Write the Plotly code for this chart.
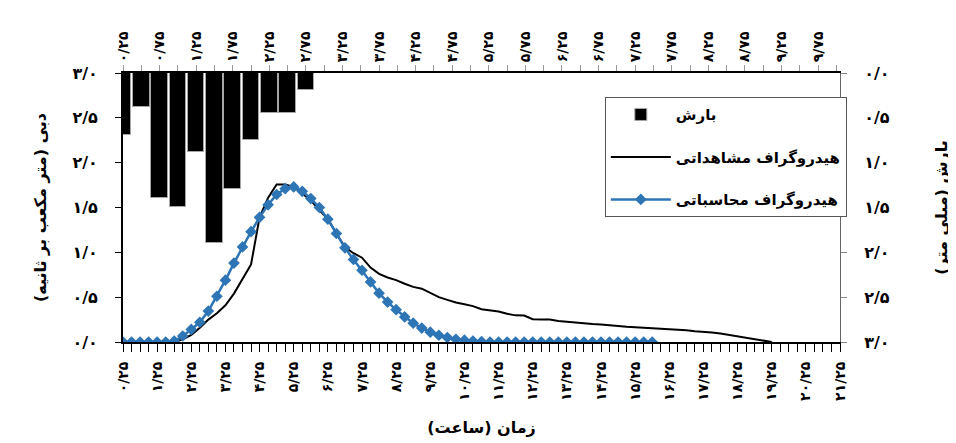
import plotly.graph_objects as go

# ---------------- data ----------------
rain_time = [0.25, 0.5, 0.75, 1.0, 1.25, 1.5, 1.75, 2.0, 2.25, 2.5, 2.75]
rain_mm = [0.69, 0.38, 1.39, 1.49, 0.885, 1.90, 1.29, 0.75, 0.45, 0.45, 0.19]

hydro_time = [0.25, 0.5, 0.75, 1.0, 1.25, 1.5, 1.75, 2.0, 2.25, 2.5, 2.75, 3.0,
              3.25, 3.5, 3.75, 4.0, 4.25, 4.5, 4.75, 5.0, 5.25, 5.5, 5.75, 6.0,
              6.25, 6.5, 6.75, 7.0, 7.25, 7.5, 7.75, 8.0, 8.25, 8.5, 8.75, 9.0,
              9.25, 9.5, 9.75, 10.0, 10.25, 10.5, 10.75, 11.0, 11.25, 11.5, 11.75, 12.0,
              12.25, 12.5, 12.75, 13.0, 13.25, 13.5, 13.75, 14.0, 14.25, 14.5, 14.75, 15.0,
              15.25, 15.5, 15.75, 16.0, 16.25, 16.5, 16.75, 17.0, 17.25, 17.5, 17.75, 18.0,
              18.25, 18.5, 18.75, 19.0, 19.25, 19.5, 19.75, 20.0, 20.25, 20.5, 20.75, 21.0,
              21.25]

observed = [0, 0, 0, 0, 0, 0, 0,
            0.03, 0.08, 0.16, 0.25, 0.32, 0.41, 0.54, 0.71, 0.865, 1.39, 1.61, 1.756,
            1.756, 1.73, 1.66, 1.58, 1.47, 1.37, 1.21, 1.06,
            0.99, 0.94, 0.83, 0.76, 0.72, 0.69, 0.65, 0.615, 0.595, 0.55, 0.50, 0.47,
            0.44, 0.42, 0.40, 0.365, 0.355, 0.34, 0.315, 0.297, 0.295, 0.255, 0.25, 0.25,
            0.235, 0.225, 0.215, 0.21, 0.20, 0.195, 0.185, 0.18, 0.17, 0.165, 0.16, 0.155,
            0.15, 0.14, 0.135, 0.13, 0.12, 0.115, 0.105, 0.095, 0.08, 0.065, 0.05, 0.03,
            0.015, 0.0]

computed = [0, 0, 0, 0, 0, 0, 0.01, 0.067, 0.14, 0.22, 0.345, 0.51, 0.69, 0.88,
            1.06, 1.23, 1.39, 1.53, 1.645, 1.71, 1.73, 1.68, 1.60, 1.50, 1.37, 1.21,
            1.05, 0.92, 0.80, 0.67, 0.545, 0.445, 0.36, 0.28, 0.21, 0.155, 0.11, 0.075,
            0.05, 0.03, 0.02, 0.01, 0.005,
            0, 0, 0, 0, 0, 0, 0, 0, 0, 0, 0, 0, 0, 0, 0, 0, 0, 0, 0, 0]

bottom_tickvals = [0.25, 1.25, 2.25, 3.25, 4.25, 5.25, 6.25, 7.25, 8.25, 9.25, 10.25,
                   11.25, 12.25, 13.25, 14.25, 15.25, 16.25, 17.25, 18.25, 19.25,
                   20.25, 21.25]
bottom_ticktext = ["۰/۲۵", "۱/۲۵", "۲/۲۵", "۳/۲۵", "۴/۲۵", "۵/۲۵", "۶/۲۵", "۷/۲۵",
                   "۸/۲۵", "۹/۲۵", "۱۰/۲۵", "۱۱/۲۵", "۱۲/۲۵", "۱۳/۲۵", "۱۴/۲۵",
                   "۱۵/۲۵", "۱۶/۲۵", "۱۷/۲۵", "۱۸/۲۵", "۱۹/۲۵", "۲۰/۲۵", "۲۱/۲۵"]

top_tickvals = [0.25, 0.75, 1.25, 1.75, 2.25, 2.75, 3.25, 3.75, 4.25, 4.75, 5.25,
                5.75, 6.25, 6.75, 7.25, 7.75, 8.25, 8.75, 9.25, 9.75]
top_ticktext = ["۰/۲۵", "۰/۷۵", "۱/۲۵", "۱/۷۵", "۲/۲۵", "۲/۷۵", "۳/۲۵", "۳/۷۵",
                "۴/۲۵", "۴/۷۵", "۵/۲۵", "۵/۷۵", "۶/۲۵", "۶/۷۵", "۷/۲۵", "۷/۷۵",
                "۸/۲۵", "۸/۷۵", "۹/۲۵", "۹/۷۵"]

y_tickvals = [0, 0.5, 1.0, 1.5, 2.0, 2.5, 3.0]
y_ticktext = ["۰/۰", "۰/۵", "۱/۰", "۱/۵", "۲/۰", "۲/۵", "۳/۰"]

FONT = "DejaVu Sans"

fig = go.Figure()

fig.add_trace(go.Bar(
    x=rain_time, y=rain_mm, xaxis="x2", yaxis="y2",
    name="بارش", width=0.227,
    marker=dict(color="black", line=dict(color="#a6a6a6", width=1)),
    legendgroup="a",
))
fig.add_trace(go.Scatter(
    x=hydro_time[:len(observed)], y=observed, mode="lines",
    name="هیدروگراف مشاهداتی", line=dict(color="black", width=2),
    legendgroup="b",
))
fig.add_trace(go.Scatter(
    x=hydro_time[:len(computed)], y=computed, mode="lines+markers",
    name="هیدروگراف محاسباتی",
    line=dict(color="#2e75b6", width=2.5),
    marker=dict(symbol="diamond", size=9, color="#2e75b6"),
    legendgroup="c",
))

xtickfont = dict(family=FONT, size=14, color="black", weight="bold")
ytickfont = dict(family=FONT, size=16, color="black", weight="bold")
titlefont = dict(family=FONT, size=16, color="black", weight="bold")

fig.update_layout(
    width=948, height=435,
    margin=dict(l=115, r=116, t=65, b=101),
    plot_bgcolor="white", paper_bgcolor="white",
    showlegend=True,
    bargap=0,
    legend=dict(
        x=0.672, y=0.91, xanchor="left", yanchor="top",
        bgcolor="white", bordercolor="#555555", borderwidth=1,
        font=dict(family=FONT, size=15, color="black", weight="bold"),
        tracegroupgap=20, itemwidth=60,
    ),
    xaxis=dict(
        range=[0.25, 21.25], tickmode="array", automargin=False,
        tickvals=bottom_tickvals, ticktext=bottom_ticktext, tickangle=-90,
        ticks="outside", ticklen=8, tickcolor="black", tickwidth=1,
        ticklabelstandoff=4,
        minor=dict(dtick=0.25, tick0=0.25, ticks="outside", ticklen=8,
                   tickcolor="black", tickwidth=1, showgrid=False),
        showline=True, linecolor="black", linewidth=2,
        showgrid=False, zeroline=False, tickfont=xtickfont,
        title=dict(text="زمان (ساعت)", font=titlefont, standoff=22),
    ),
    xaxis2=dict(
        range=[0.25, 10.05], overlaying="x", side="top", anchor="y2", automargin=False,
        tickmode="array", tickvals=top_tickvals, ticktext=top_ticktext, tickangle=-90,
        ticks="outside", ticklen=6, tickcolor="#999999", tickwidth=1,
        ticklabelstandoff=0,
        minor=dict(dtick=0.25, tick0=0.25, ticks="outside", ticklen=6,
                   tickcolor="#999999", tickwidth=1, showgrid=False),
        showline=True, linecolor="black", linewidth=2,
        showgrid=False, zeroline=False, tickfont=xtickfont,
    ),
    yaxis=dict(
        range=[0, 3.0], tickmode="array", tickvals=y_tickvals, ticktext=y_ticktext,
        automargin=False,
        ticks="outside", ticklen=6, tickcolor="black", ticklabelstandoff=14,
        showline=True, linecolor="black", linewidth=2,
        showgrid=False, zeroline=False, tickfont=ytickfont,
        title=dict(text="دبی (متر مکعب بر ثانیه)", font=titlefont, standoff=22),
    ),
    yaxis2=dict(
        range=[3.0, 0], overlaying="y", side="right", anchor="x2", automargin=False,
        tickmode="array", tickvals=y_tickvals, ticktext=y_ticktext,
        ticks="outside", ticklen=6, tickcolor="#888888", ticklabelstandoff=14,
        showline=True, linecolor="#666666", linewidth=1,
        showgrid=False, zeroline=False, tickfont=ytickfont,
        title=dict(text="بارش (میلی متر)", font=titlefont, standoff=46),
    ),
)

fig.write_html("out.html")
